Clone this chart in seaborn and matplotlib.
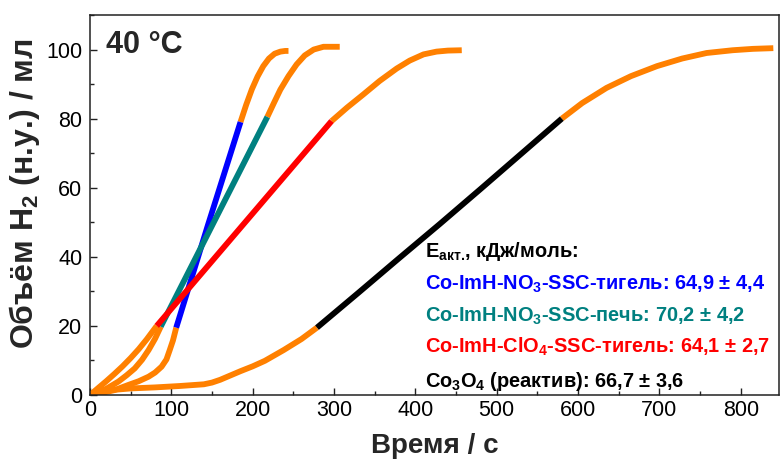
import matplotlib
matplotlib.use("Agg")
import matplotlib.pyplot as plt
import seaborn as sns
import pandas as pd
from matplotlib.ticker import MultipleLocator

# ---------------- data ----------------
# Co-ImH-NO3-SSC-тигель (blue)
blue_pre_t = [0, 15, 30, 47, 60, 72, 80, 88, 94, 98, 102, 106]
blue_pre_v = [0, 0.6, 1.4, 2.9, 4.0, 5.3, 6.5, 8.2, 10.3, 13.0, 15.8, 19.5]
blue_lin_t = [106, 145, 185]
blue_lin_v = [19.5, 49.2, 79.0]
blue_post_t = [185, 192, 199, 206, 213, 220, 227, 234, 240, 244]
blue_post_v = [79.0, 84.0, 88.5, 92.2, 95.2, 97.4, 98.8, 99.4, 99.6, 99.6]

# Co-ImH-NO3-SSC-печь (teal)
teal_pre_t = [0, 10, 20, 35, 45, 55, 64, 72, 80, 87]
teal_pre_v = [0, 0.8, 1.8, 3.9, 5.7, 7.7, 10.2, 13.0, 16.3, 19.8]
teal_lin_t = [87, 150, 218]
teal_lin_v = [19.8, 49.0, 80.5]
teal_post_t = [218, 226, 234, 244, 254, 264, 275, 287, 300, 307]
teal_post_v = [80.5, 84.5, 88.4, 92.3, 95.7, 98.3, 100.0, 100.8, 100.8, 100.8]

# Co-ImH-ClO4-SSC-тигель (red)
red_pre_t = [0, 10, 20, 30, 40, 50, 60, 70, 82]
red_pre_v = [0, 2.0, 4.0, 6.1, 8.3, 10.7, 13.3, 16.2, 20.0]
red_lin_t = [82, 190, 297]
red_lin_v = [20.0, 49.8, 79.3]
red_post_t = [297, 316, 336, 356, 377, 393, 410, 426, 440, 457]
red_post_v = [79.3, 83.2, 87.0, 90.9, 94.5, 96.8, 98.6, 99.4, 99.7, 99.8]

# Co3O4 (реактив) (black)
blk_pre_t = [0, 10, 25, 50, 80, 110, 140, 150, 160, 172, 185, 200, 215, 238, 260, 279]
blk_pre_v = [0, 0.9, 1.4, 1.9, 2.2, 2.6, 3.1, 3.6, 4.4, 5.6, 6.9, 8.3, 9.9, 13.0, 16.2, 19.5]
blk_lin_t = [279, 330, 380, 430, 480, 530, 580]
blk_lin_v = [19.5, 29.6, 39.6, 49.5, 59.6, 69.8, 80.0]
blk_post_t = [580, 605, 635, 665, 697, 728, 758, 790, 815, 840]
blk_post_v = [80.0, 84.5, 88.9, 92.3, 95.2, 97.4, 99.0, 99.8, 100.2, 100.4]

x_ticks = [0, 100, 200, 300, 400, 500, 600, 700, 800]
y_ticks = [0, 20, 40, 60, 80, 100]

legend_title = r"E$_\mathbf{акт.}\!$, кДж/моль:"
legend_lines = [
    (r"Co-ImH-NO$_\mathbf{3}$-SSC-тигель: 64,9 ± 4,4", "#0000FF"),
    (r"Co-ImH-NO$_\mathbf{3}$-SSC-печь: 70,2 ± 4,2", "#008080"),
    (r"Co-ImH-ClO$_\mathbf{4}$-SSC-тигель: 64,1 ± 2,7", "#FF0000"),
    (r"Co$_\mathbf{3}$O$_\mathbf{4}$ (реактив): 66,7 ± 3,6", "#000000"),
]

ORANGE = "#FF8000"
palette = {"orange": ORANGE, "blue": "#0000FF", "teal": "#008080",
           "red": "#FF0000", "black": "#000000"}

segments = [
    ("b_pre", "orange", blue_pre_t, blue_pre_v),
    ("t_pre", "orange", teal_pre_t, teal_pre_v),
    ("r_pre", "orange", red_pre_t, red_pre_v),
    ("k_pre", "orange", blk_pre_t, blk_pre_v),
    ("b_post", "orange", blue_post_t, blue_post_v),
    ("t_post", "orange", teal_post_t, teal_post_v),
    ("r_post", "orange", red_post_t, red_post_v),
    ("k_post", "orange", blk_post_t, blk_post_v),
    ("b_lin", "blue", blue_lin_t, blue_lin_v),
    ("t_lin", "teal", teal_lin_t, teal_lin_v),
    ("r_lin", "red", red_lin_t, red_lin_v),
    ("k_lin", "black", blk_lin_t, blk_lin_v),
]
rows = []
for seg, col, ts, vs in segments:
    for t, v in zip(ts, vs):
        rows.append({"t": t, "v": v, "seg": seg, "col": col})
df = pd.DataFrame(rows)

# ---------------- style ----------------
sns.set_theme(style="ticks")
plt.rcParams["font.family"] = ["Liberation Sans", "DejaVu Sans"]
plt.rcParams["mathtext.fontset"] = "custom"
plt.rcParams["mathtext.rm"] = "Liberation Sans"
plt.rcParams["mathtext.it"] = "Liberation Sans:italic"
plt.rcParams["mathtext.bf"] = "Liberation Sans:bold"

fig = plt.figure(figsize=(7.81, 4.61), dpi=100)
ax = fig.add_axes([90 / 781, 66 / 461, 689 / 781, 380 / 461])

for col in ["orange", "blue", "teal", "red", "black"]:
    sub = df[df["col"] == col]
    sns.lineplot(data=sub, x="t", y="v", units="seg", estimator=None,
                 sort=False, color=palette[col], lw=4.2, ax=ax, legend=False,
                 solid_capstyle="butt", solid_joinstyle="round")

ax.set_xlim(0, 847)
ax.set_ylim(0, 110)
ax.set_xticks(x_ticks)
ax.set_yticks(y_ticks)
ax.xaxis.set_minor_locator(MultipleLocator(50))
ax.yaxis.set_minor_locator(MultipleLocator(10))
ax.tick_params(which="both", direction="in", top=False, right=False,
               colors="#222222", labelcolor="black", width=1.0)
ax.tick_params(which="major", length=5, labelsize=15.5)
ax.tick_params(which="minor", length=3)
ax.tick_params(axis="x", pad=3.5)
ax.tick_params(axis="y", pad=5.5)
for s in ax.spines.values():
    s.set_linewidth(1.1)
    s.set_color("#222222")

ax.set_xlabel("Время / с", fontsize=20, fontweight="bold")
ax.set_ylabel(r"Объём H$_\mathbf{2}$ (н.у.) / мл", fontsize=23, fontweight="bold")
ax.xaxis.label.set_va("baseline")
ax.xaxis.set_label_coords(0.5, -0.153)
ax.yaxis.label.set_va("baseline")
ax.yaxis.set_label_coords(-0.083, 0.53)

ax.text(0.023, 0.90, "40 °C", transform=ax.transAxes, fontsize=22,
        fontweight="bold", va="baseline", ha="left")

tx = 0.486
ax.text(tx, 0.363, legend_title, transform=ax.transAxes, fontsize=14.4,
        fontweight="bold", va="baseline", ha="left", color="black")
ys = [0.276, 0.192, 0.111, 0.021]
for (txt, c), yy in zip(legend_lines, ys):
    ax.text(tx, yy, txt, transform=ax.transAxes, fontsize=14.4,
            fontweight="bold", va="baseline", ha="left", color=c)

fig.savefig("out.png", dpi=100)
